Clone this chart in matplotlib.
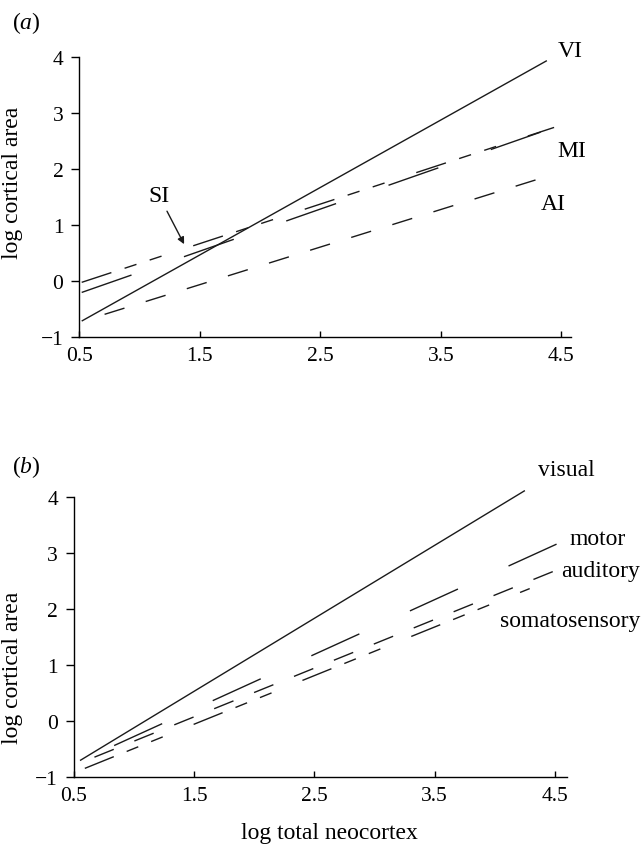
import matplotlib
matplotlib.use("Agg")
import matplotlib.pyplot as plt

plt.rcParams["font.family"] = ["Liberation Serif", "DejaVu Serif"]
plt.rcParams["mathtext.fontset"] = "custom"
plt.rcParams["mathtext.rm"] = "Liberation Serif"
plt.rcParams["mathtext.it"] = "Liberation Serif:italic"

# panel (a): regression lines, given by their end points
a_names = ["VI", "SI", "MI", "AI"]
a_x0 = [0.52, 0.52, 0.52, 0.71]
a_y0 = [-0.71, -0.02, -0.20, -0.59]
a_x1 = [4.38, 4.44, 4.44, 4.31]
a_y1 = [3.93, 2.74, 2.74, 1.82]

# panel (b)
b_names = ["visual", "motor", "auditory", "somatosensory"]
b_x0 = [0.55, 0.55, 0.67, 0.59]
b_y0 = [-0.70, -0.71, -0.64, -0.84]
b_x1 = [4.25, 4.52, 4.49, 4.29]
b_y1 = [4.12, 3.17, 2.68, 2.37]

x_ticks = [0.5, 1.5, 2.5, 3.5, 4.5]
y_ticks = [-1, 0, 1, 2, 3, 4]

SOLID = "-"
LONG = (0, (38, 40))
LONG_B = (51, (38, 40))
DASH_DOT_DOT = (0, (22.5, 10, 9, 10, 9, 24))
SHORT = (0, (15, 16))

a_styles = [SOLID, DASH_DOT_DOT, LONG, SHORT]
b_styles = [SOLID, LONG_B, SHORT, DASH_DOT_DOT]

# label placement (data coords, baseline)
a_label_pos = {"VI": (4.47, 4.01), "MI": (4.47, 2.23), "AI": (4.33, 1.28)}
b_label_pos = {"visual": (4.36, 4.39), "motor": (4.62, 3.17),
               "auditory": (4.55, 2.60), "somatosensory": (4.04, 1.71)}

TICK_FS = 15.5
LABEL_FS = 17

fig = plt.figure(figsize=(6.44, 8.45), dpi=100)
ax_a = fig.add_axes([0.1231, 0.5996, 0.7635, 0.3321])
ax_b = fig.add_axes([0.1149, 0.0789, 0.7655, 0.3314])


def style_axes(ax, xmax):
    ax.set_xlim(0.5, xmax)
    ax.set_ylim(-1, 4)
    ax.spines["top"].set_visible(False)
    ax.spines["right"].set_visible(False)
    for s in ("left", "bottom"):
        ax.spines[s].set_linewidth(1.0)
    ax.set_xticks(x_ticks)
    ax.set_xticklabels([str(t) for t in x_ticks])
    ax.set_yticks(y_ticks)
    ax.tick_params(axis="x", direction="in", length=4, width=1, pad=6, labelsize=TICK_FS)
    ax.tick_params(axis="y", direction="out", length=5.5, width=1, pad=6, labelsize=TICK_FS)
    ax.set_ylabel("log cortical area", fontsize=LABEL_FS)


def draw_lines(ax, x0, y0, x1, y1, styles):
    for xs, ys, xe, ye, ls in zip(x0, y0, x1, y1, styles):
        ax.plot([xs, xe], [ys, ye], color="#1a1a1a", lw=1.0,
                linestyle=ls, clip_on=False, solid_capstyle="butt",
                dash_capstyle="butt")


style_axes(ax_a, 4.58)
draw_lines(ax_a, a_x0, a_y0, a_x1, a_y1, a_styles)
for name, (tx, ty) in a_label_pos.items():
    ax_a.text(tx, ty, name, fontsize=LABEL_FS, ha="left", va="baseline", clip_on=False)
ax_a.annotate("SI", xy=(1.37, 0.66), xytext=(1.16, 1.43), fontsize=LABEL_FS,
              ha="center", va="baseline",
              arrowprops=dict(arrowstyle="-|>", color="#1a1a1a", lw=1.0,
                              mutation_scale=10, shrinkA=2, shrinkB=0))
ax_a.yaxis.set_label_coords(-0.1145, 0.555)
fig.text(26 / 644, 1 - 23 / 845, r"$\mathrm{(}\mathit{a}\mathrm{)}$",
         fontsize=LABEL_FS, ha="center", va="center")

style_axes(ax_b, 4.60)
draw_lines(ax_b, b_x0, b_y0, b_x1, b_y1, b_styles)
for name, (tx, ty) in b_label_pos.items():
    ax_b.text(tx, ty, name, fontsize=LABEL_FS, ha="left", va="baseline", clip_on=False)
ax_b.yaxis.set_label_coords(-0.103, 0.396)
ax_b.set_xlabel("log total neocortex", fontsize=LABEL_FS)
ax_b.xaxis.set_label_coords(0.519, -0.16)
fig.text(26 / 644, 1 - 467 / 845, r"$\mathrm{(}\mathit{b}\mathrm{)}$",
         fontsize=LABEL_FS, ha="center", va="center")

fig.savefig("out.png", dpi=100)
